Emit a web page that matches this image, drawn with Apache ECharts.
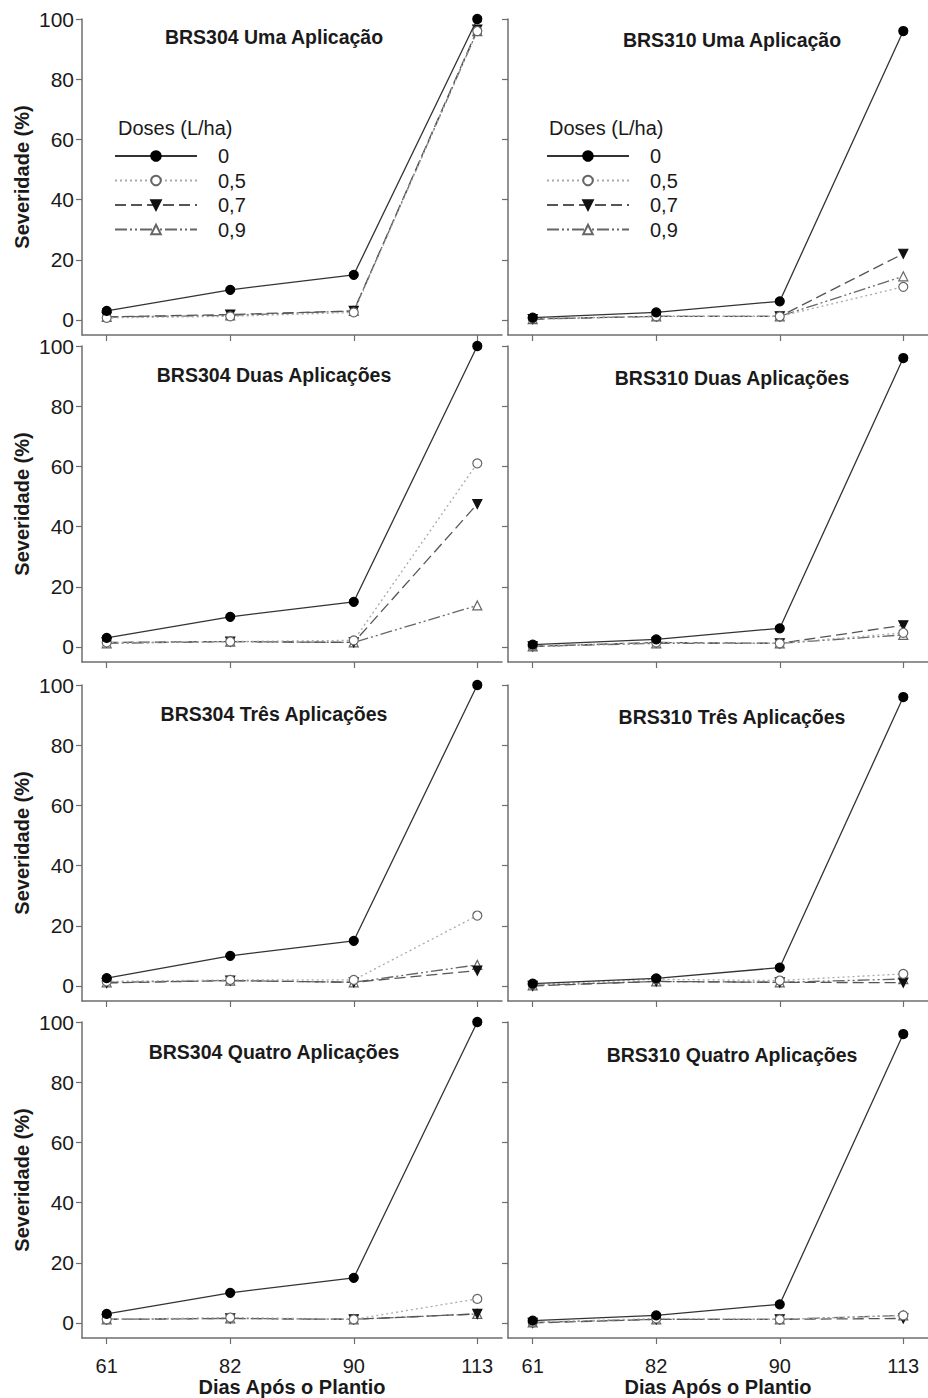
<!DOCTYPE html>
<html>
<head>
<meta charset="utf-8">
<script src="https://cdn.jsdelivr.net/npm/echarts@6/dist/echarts.min.js"></script>
<style>
  html, body { margin: 0; padding: 0; background: #fff; }
  #chart { width: 928px; height: 1398px; }
</style>
</head>
<body>
<div id="chart"></div>
<script>
// ---- Data ----
const days = ['61', '82', '90', '113'];
const doses = ['0', '0,5', '0,7', '0,9'];
const yTicks = [0, 20, 40, 60, 80, 100];
const panelTitles = [
  'BRS304 Uma Aplicação', 'BRS310 Uma Aplicação',
  'BRS304 Duas Aplicações', 'BRS310 Duas Aplicações',
  'BRS304 Três Aplicações', 'BRS310 Três Aplicações',
  'BRS304 Quatro Aplicações', 'BRS310 Quatro Aplicações'
];
// each panel: values per dose [0, 0.5, 0.7, 0.9] at days 61, 82, 90, 113
const brs304Uma = [
  [3, 10, 15, 100],
  [0.7, 1.2, 2.5, 96],
  [1, 1.8, 3, 96.5],
  [1, 1.5, 3, 96]
];
const brs310Uma = [
  [0.8, 2.5, 6.2, 96],
  [0.5, 1.2, 1.2, 11],
  [0.3, 1.2, 1.2, 22],
  [0.3, 1.2, 1.2, 14.5]
];
const brs304Duas = [
  [3, 10, 15, 100],
  [1.5, 1.8, 2.2, 61],
  [1.5, 1.8, 1.5, 47.5],
  [1.2, 1.8, 1.5, 13.8]
];
const brs310Duas = [
  [0.8, 2.5, 6.2, 96],
  [0.3, 1.5, 1.2, 4.7],
  [0.2, 1.5, 1.2, 7.2],
  [0.2, 1.2, 1.2, 4]
];
const brs304Tres = [
  [2.6, 10, 15, 100],
  [1.5, 2, 2, 23.4],
  [1, 1.8, 1.2, 5.1],
  [1.2, 1.8, 1.2, 7]
];
const brs310Tres = [
  [0.8, 2.5, 6.1, 96],
  [0.5, 2.2, 1.8, 4],
  [0, 1.5, 1.2, 1.1],
  [0.2, 1.5, 1.2, 2.3]
];
const brs304Quatro = [
  [3, 10, 15, 100],
  [1.2, 1.8, 1.2, 8],
  [1.2, 1.5, 1.2, 3],
  [1.2, 1.5, 1.2, 3]
];
const brs310Quatro = [
  [0.8, 2.5, 6.2, 96],
  [0.2, 1.5, 1.2, 2.5],
  [0, 1.2, 1.2, 1.5],
  [0.2, 1.2, 1.2, 2.5]
];
const panels = [brs304Uma, brs310Uma, brs304Duas, brs310Duas,
                brs304Tres, brs310Tres, brs304Quatro, brs310Quatro];

// ---- Layout / styles ----
const FONT = '"Liberation Sans", Arial, Helvetica, sans-serif';
const AXIS_COLOR = '#6e6e6e';
const TEXT_COLOR = '#1a1a1a';
const colLeft = [82, 508];
const gridWidth = 420;
const rowTop = [19, 346, 685, 1022];
const gridHeight = 316;

const doseStyles = [
  { symbol: 'circle', rotate: 0, fill: '#000', border: '#000', line: '#333', type: 'solid' },
  { symbol: 'circle', rotate: 0, fill: '#fff', border: '#666', line: '#aaa', type: [2, 3] },
  { symbol: 'triangle', rotate: 180, fill: '#111', border: '#111', line: '#555', type: [11, 5] },
  { symbol: 'triangle', rotate: 0, fill: '#fff', border: '#666', line: '#666', type: [12, 3, 2, 3, 2, 3] }
];

const grids = [], xAxes = [], yAxes = [], series = [], graphics = [];

panels.forEach((panel, p) => {
  const row = Math.floor(p / 2), col = p % 2;
  const isBottom = row === 3, isLeft = col === 0;
  grids.push({ left: colLeft[col], top: rowTop[row], width: gridWidth, height: gridHeight, containLabel: false });
  xAxes.push({
    type: 'value', gridIndex: p, min: -0.2, max: 3.2,
    axisLine: { show: true, onZero: false, lineStyle: { color: AXIS_COLOR, width: 1.5 } },
    axisTick: { show: true, inside: false, length: 6, customValues: [0, 1, 2, 3], lineStyle: { color: AXIS_COLOR, width: 1.2 } },
    axisLabel: { show: isBottom, customValues: [0, 1, 2, 3], formatter: v => days[v], margin: 18,
                 fontSize: 20, fontFamily: FONT, color: TEXT_COLOR },
    splitLine: { show: false },
    name: isBottom ? 'Dias Após o Plantio' : '',
    nameLocation: 'middle', nameGap: 36,
    nameTextStyle: { fontSize: 20, fontWeight: 'bold', fontFamily: FONT, color: TEXT_COLOR }
  });
  yAxes.push({
    type: 'value', gridIndex: p, min: -5, max: 100,
    axisLine: { show: true, onZero: false, lineStyle: { color: AXIS_COLOR, width: 1.5 } },
    axisTick: { show: true, inside: false, length: 6, customValues: yTicks, lineStyle: { color: AXIS_COLOR, width: 1.2 } },
    axisLabel: { show: isLeft, customValues: yTicks, margin: 8,
                 fontSize: 21, fontFamily: FONT, color: TEXT_COLOR },
    splitLine: { show: false },
    name: isLeft ? 'Severidade (%)' : '',
    nameLocation: 'middle', nameGap: 50,
    nameTextStyle: { fontSize: 20, fontWeight: 'bold', fontFamily: FONT, color: TEXT_COLOR }
  });
  panel.forEach((vals, d) => {
    const st = doseStyles[d];
    series.push({
      type: 'line', name: doses[d], xAxisIndex: p, yAxisIndex: p,
      data: vals.map((v, i) => [i, v]),
      symbol: st.symbol, symbolRotate: st.rotate, symbolSize: 9,
      clip: false, silent: true, animation: false,
      z: 10 - d,
      lineStyle: { color: st.line, width: 1.3, type: st.type },
      itemStyle: { color: st.fill, borderColor: st.border, borderWidth: 1.2 }
    });
  });
  // panel title
  const titleY = [37, 375, 714, 1052][row] + (isLeft ? 0 : 3);
  graphics.push({
    type: 'text', x: isLeft ? 274 : 732, y: titleY, z: 20,
    style: { text: panelTitles[p], font: 'bold 19.5px ' + FONT, fill: TEXT_COLOR,
             textAlign: 'center', textVerticalAlign: 'middle' }
  });
});

// legend headers
[118, 549].forEach(x => {
  graphics.push({
    type: 'text', x: x, y: 128, z: 20,
    style: { text: 'Doses (L/ha)', font: '20px ' + FONT, fill: TEXT_COLOR,
             textAlign: 'left', textVerticalAlign: 'middle' }
  });
});

const legendBase = {
  orient: 'vertical', top: 146, padding: 0, itemWidth: 82, itemHeight: 12, itemGap: 4.5,
  selectedMode: false, data: doses,
  textStyle: { fontSize: 20, fontFamily: FONT, color: TEXT_COLOR, lineHeight: 20, padding: [0, 0, 0, 16] }
};

const option = {
  backgroundColor: '#fff',
  animation: false,
  grid: grids,
  xAxis: xAxes,
  yAxis: yAxes,
  series: series,
  legend: [
    Object.assign({}, legendBase, { left: 114 }),
    Object.assign({}, legendBase, { left: 546 })
  ],
  graphic: graphics
};

const chart = echarts.init(document.getElementById('chart'), null, { renderer: 'svg' });
chart.setOption(option);
</script>
</body>
</html>
